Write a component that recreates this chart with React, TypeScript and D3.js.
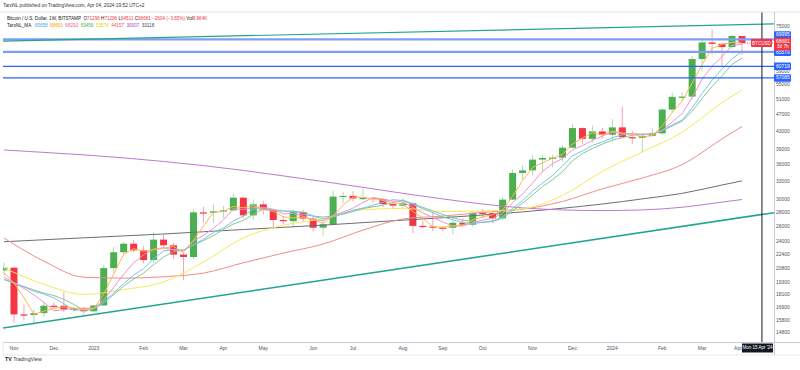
import React, { useRef, useEffect } from "react";
import * as d3 from "d3";

// weekly BTCUSD candles, Oct 31 2022 .. Apr 1 2024 (index = week)
const opens = [
  20627, 20915, 16334, 16284, 16444, 17106, 17100, 16780, 16840, 16610,
  17130, 20870, 22700, 23750, 22930, 21780, 24270, 23550, 22420, 22140,
  28030, 27990, 28190, 28330, 30300, 27590, 29250, 28450, 26920, 26750,
  28070, 27120, 25850, 26330, 30470, 30590, 30170, 30250, 30080, 29280,
  29050, 29400, 26100, 26010, 25860, 25840, 26530, 26260, 27980, 27930,
  27160, 29990, 34520, 35010, 37060, 37380, 37450, 39470, 43790, 41370,
  43010, 42280, 43950, 41730, 41580, 42030, 42580, 48300, 51660, 51730,
  63100, 68900, 68390, 67220, 71296,
];
const highs = [
  21479, 21055, 17197, 16770, 17424, 17420, 18380, 16960, 16970, 17190,
  21250, 23370, 23960, 24240, 23440, 25250, 25020, 23900, 22600, 28470,
  28870, 29200, 29000, 30970, 30490, 30030, 29800, 28500, 27500, 28450,
  28440, 27400, 26800, 31430, 31280, 31380, 31800, 30400, 30100, 29700,
  30200, 29480, 26820, 28140, 26050, 27480, 27150, 28000, 28580, 28100,
  30380, 35200, 35970, 37970, 37950, 38000, 40000, 44700, 44000, 44380,
  43800, 45900, 49050, 43200, 42250, 43880, 48600, 52800, 52980, 64000,
  70170, 73780, 68900, 71770, 71296,
];
const lows = [
  20046, 15632, 15815, 15480, 16124, 16880, 16540, 16560, 16330, 16530,
  17120, 20410, 22500, 22700, 21400, 21460, 23110, 21940, 19570, 21920,
  26600, 26500, 27200, 28170, 27130, 26940, 27700, 25810, 26330, 25900,
  26600, 25350, 24800, 26260, 29500, 29700, 29960, 29500, 28860, 28580,
  28730, 25150, 25770, 25390, 25370, 24900, 26000, 26000, 27200, 26530,
  26960, 29900, 33400, 34100, 34800, 35600, 36700, 39400, 40200, 40500,
  41400, 40750, 41500, 40300, 38500, 41800, 42250, 47600, 50550, 50900,
  59000, 64600, 60780, 66500, 64511,
];
const closes = [
  20915, 16334, 16284, 16444, 17106, 17100, 16780, 16840, 16610, 17130,
  20870, 22700, 23750, 22930, 21780, 24270, 23550, 22420, 22140, 28030,
  27990, 28190, 28330, 30300, 27590, 29250, 28450, 26920, 26750, 28070,
  27120, 25850, 26330, 30470, 30590, 30170, 30250, 30080, 29280, 29050,
  29400, 26100, 26010, 25860, 25840, 26530, 26260, 27980, 27930, 27160,
  29990, 34520, 35010, 37060, 37380, 37450, 39470, 43790, 41370, 43010,
  42280, 43950, 41730, 41580, 42030, 42580, 48300, 51660, 51730, 63100,
  68900, 68390, 67220, 71296, 68681,
];

// TaroNL_MA lines, one value per week
const maOrange = [
  20371, 19292, 17844, 16354, 16611, 16883, 16995, 16907, 16743, 16860,
  18203, 20233, 22440, 23127, 22820, 22993, 23200, 23413, 22703, 24197,
  26053, 28070, 28170, 28940, 28740, 29047, 28430, 28207, 27373, 27247,
  27313, 27013, 26433, 27550, 29130, 30410, 30337, 30167, 29870, 29470,
  29243, 28183, 27170, 25990, 25903, 26077, 26210, 26923, 27390, 27690,
  28360, 30557, 33173, 35530, 36483, 37297, 38100, 40237, 41543, 42723,
  42220, 43080, 42653, 42420, 41780, 42063, 44303, 47513, 50563, 55497,
  61243, 66797, 68170, 68969, 68663,
];
const maPink = [
  19920, 19303, 18746, 18121, 17417, 16654, 16743, 16854, 16887, 16892,
  17646, 18830, 20212, 21476, 22406, 23086, 23256, 22990, 22832, 24082,
  24826, 25754, 26936, 28568, 28480, 28732, 28784, 28502, 27792, 27888,
  27462, 26942, 26824, 27568, 28072, 28682, 29562, 30312, 30074, 29766,
  29612, 28782, 27968, 27284, 26642, 26068, 26100, 26494, 26908, 27172,
  27864, 29516, 30922, 32748, 34792, 36284, 37274, 39030, 39892, 41018,
  41984, 42880, 42468, 42510, 42314, 42374, 43244, 45230, 47260, 51474,
  56738, 60756, 63868, 67781, 68293,
];
const maBlue = [
  19673, 19321, 18889, 18463, 18183, 17830, 17280, 16698, 16738, 16859,
  17491, 18290, 19240, 20119, 20824, 21919, 22836, 23057, 22977, 23589,
  24311, 25227, 25807, 26771, 27510, 28526, 28586, 28433, 28227, 28190,
  27736, 27487, 27070, 27359, 27883, 28371, 28683, 29106, 29596, 29984,
  29831, 29190, 28596, 27969, 27363, 26970, 26571, 26369, 26630, 26794,
  27384, 28624, 29836, 31379, 32721, 34081, 35840, 37811, 38790, 39933,
  40679, 41617, 42229, 42530, 42279, 42451, 43207, 44547, 45659, 48711,
  52614, 56380, 59900, 63185, 65658,
];
const maGreen = [
  19642, 19256, 18941, 18583, 18294, 18048, 17699, 17225, 16687, 16787,
  17360, 18142, 18973, 19701, 20326, 21255, 22123, 22784, 22943, 23609,
  24139, 24796, 25615, 26369, 26874, 27728, 28516, 28378, 28223, 28208,
  28056, 27500, 27343, 27495, 27763, 28169, 28606, 28858, 29128, 29528,
  29911, 29365, 28793, 28254, 27703, 27259, 26881, 26748, 26564, 26696,
  27194, 28276, 29423, 30739, 32129, 33313, 34755, 36834, 38256, 39318,
  40226, 41088, 41631, 42148, 42468, 42316, 43183, 44264, 45445, 47839,
  51235, 54586, 57735, 61325, 63456,
];

// slow MA lines, read every 4 weeks
const longWeeks = [0, 4, 8, 12, 16, 20, 24, 28, 32, 36, 40, 44, 48, 52, 56, 60, 64, 68, 72, 74];
const maYellow = [20880, 19160, 18164, 18633, 19405, 21556, 24498, 26181, 27108, 28414, 28627, 28154, 28238, 28563, 30659, 34824, 38611, 42836, 50101, 53578];
const maRed = [24470, 21650, 19890, 19790, 19940, 20330, 21470, 22600, 23710, 25520, 27070, 27490, 28030, 28510, 29700, 31760, 33620, 36100, 41340, 44157];
const maPurple = [39000, 38500, 38000, 37400, 36700, 35900, 35000, 34000, 33000, 32000, 31000, 30100, 29300, 28700, 28400, 28300, 28400, 28800, 29600, 30007];
const maGray = [24000, 24250, 24500, 24750, 25000, 25300, 25600, 25900, 26200, 26550, 26900, 27250, 27650, 28100, 28650, 29300, 30100, 31000, 32400, 33118];

const levelPrices = [69995, 65570, 60719, 57085];
const priceTicks = [14800, 15800, 16900, 18100, 19300, 20800, 22400, 24000, 26000, 28000, 30000, 33000, 36000, 39000, 43000, 47000, 51000, 55000, 59000, 75000];
const timeTickWeeks = [1, 5, 9, 14, 18, 22, 26, 31, 35, 40, 44, 48, 53, 57, 61, 66, 70, 74];
const timeTickLabels = ["Nov", "Dec", "2023", "Feb", "Mar", "Apr", "May", "Jun", "Jul", "Aug", "Sep", "Oct", "Nov", "Dec", "2024", "Feb", "Mar", "Apr"];
// trendlines: [week, price]
const supportLine: [number, number][] = [[0, 15210], [77, 27940]];
const upperLine: [number, number][] = [[0, 69400], [77, 75950]];
const crosshairWeek = 76;

const maLegend = [
  { value: "65658", color: "#42a5f5" },
  { value: "68663", color: "#ff9800" },
  { value: "68293", color: "#f06292" },
  { value: "63456", color: "#4caf50" },
  { value: "53578", color: "#e6d200" },
  { value: "44157", color: "#ef5350" },
  { value: "30007", color: "#ab47bc" },
  { value: "33118", color: "#434651" },
];

const W = 800;
const H = 370;
const UP = "#4caf50";
const DOWN = "#f23645";

const App: React.FC = () => {
  const svgRef = useRef<SVGSVGElement | null>(null);

  useEffect(() => {
    const svg = d3.select(svgRef.current);
    svg.selectAll("*").remove();

    const left = 3;
    const right = 774;
    const top = 12;
    const bottom = 342;
    const font = "'Liberation Sans', Arial, sans-serif";

    const x = d3.scaleLinear().domain([0, 74]).range([4, 742]);
    const y = d3.scaleLog().domain([14118, 80930]).range([bottom, top]);

    svg.append("rect").attr("width", W).attr("height", H).attr("fill", "#fff");

    svg
      .append("defs")
      .append("clipPath")
      .attr("id", "plot")
      .append("rect")
      .attr("x", left)
      .attr("y", top)
      .attr("width", right - left)
      .attr("height", bottom - top);

    const plot = svg.append("g").attr("clip-path", "url(#plot)");

    // candles
    const idx = d3.range(closes.length);
    const bw = 7;
    plot
      .selectAll(".wick")
      .data(idx)
      .enter()
      .append("line")
      .attr("x1", (i) => x(i))
      .attr("x2", (i) => x(i))
      .attr("y1", (i) => y(highs[i]))
      .attr("y2", (i) => y(lows[i]))
      .attr("stroke", (i) => (closes[i] >= opens[i] ? UP : DOWN))
      .attr("stroke-opacity", 0.45)
      .attr("stroke-width", 1);

    plot
      .selectAll(".body")
      .data(idx)
      .enter()
      .append("rect")
      .attr("x", (i) => x(i) - bw / 2)
      .attr("y", (i) => y(Math.max(opens[i], closes[i])))
      .attr("width", bw)
      .attr("height", (i) => Math.max(1.2, y(Math.min(opens[i], closes[i])) - y(Math.max(opens[i], closes[i]))))
      .attr("fill", (i) => (closes[i] >= opens[i] ? UP : DOWN));

    // moving averages
    const weekLine = d3
      .line<number>()
      .x((_, i) => x(i))
      .y((d) => y(d));
    const slowLine = d3
      .line<number>()
      .x((_, i) => x(longWeeks[i]))
      .y((d) => y(d))
      .curve(d3.curveMonotoneX);

    const slow = [
      { data: maGray, color: "#6b6e76" },
      { data: maPurple, color: "#c077d0" },
      { data: maRed, color: "#f28b8b" },
      { data: maYellow, color: "#f6e85a" },
    ];
    slow.forEach((s) => {
      plot
        .append("path")
        .attr("d", slowLine(s.data))
        .attr("fill", "none")
        .attr("stroke", s.color)
        .attr("stroke-width", 1);
    });

    const fast = [
      { data: maGreen, color: "#86c98a" },
      { data: maBlue, color: "#7cc0f5" },
      { data: maPink, color: "#f294c8" },
      { data: maOrange, color: "#ffb74d" },
    ];
    fast.forEach((s) => {
      plot
        .append("path")
        .attr("d", weekLine(s.data))
        .attr("fill", "none")
        .attr("stroke", s.color)
        .attr("stroke-width", 1);
    });

    // horizontal levels
    levelPrices.forEach((p, i) => {
      plot
        .append("line")
        .attr("x1", left)
        .attr("x2", right)
        .attr("y1", y(p))
        .attr("y2", y(p))
        .attr("stroke", i < 2 ? "#7f9ef3" : "#2962ff")
        .attr("stroke-width", i < 2 ? 2.2 : 1.3);
    });

    // trendlines, extended across the plot
    const trend = (pts: [number, number][], width: number) => {
      const [a, b] = pts;
      const xa = x(a[0]);
      const ya = y(a[1]);
      const xb = x(b[0]);
      const yb = y(b[1]);
      const k = (yb - ya) / (xb - xa);
      plot
        .append("line")
        .attr("x1", left)
        .attr("y1", ya + k * (left - xa))
        .attr("x2", right)
        .attr("y2", ya + k * (right - xa))
        .attr("stroke", "#22a58f")
        .attr("stroke-width", width);
    };
    trend(supportLine, 1.6);
    trend(upperLine, 1.2);

    // last price dotted line
    plot
      .append("line")
      .attr("x1", x(74))
      .attr("x2", right)
      .attr("y1", y(closes[74]))
      .attr("y2", y(closes[74]))
      .attr("stroke", DOWN)
      .attr("stroke-width", 0.8)
      .attr("stroke-dasharray", "1,1.5");

    // crosshair
    const cx = x(crosshairWeek);
    svg
      .append("line")
      .attr("x1", cx)
      .attr("x2", cx)
      .attr("y1", top)
      .attr("y2", bottom)
      .attr("stroke", "#131722")
      .attr("stroke-width", 1);

    // BTCUSD label
    svg
      .append("rect")
      .attr("x", 751)
      .attr("y", y(closes[74]) - 4)
      .attr("width", 21)
      .attr("height", 8)
      .attr("rx", 1)
      .attr("fill", DOWN);
    svg
      .append("text")
      .attr("x", 761.5)
      .attr("y", y(closes[74]) + 0.3)
      .attr("text-anchor", "middle")
      .attr("dominant-baseline", "middle")
      .attr("font-family", font)
      .attr("font-size", 4.6)
      .attr("fill", "#fff")
      .text("BTCUSD");

    // frame lines
    svg.append("line").attr("x1", 0).attr("x2", W).attr("y1", top).attr("y2", top).attr("stroke", "#e0e3eb").attr("stroke-width", 1);
    svg.append("line").attr("x1", left).attr("x2", W).attr("y1", bottom + 0.5).attr("y2", bottom + 0.5).attr("stroke", "#c9ccd4").attr("stroke-width", 1);
    svg.append("line").attr("x1", left).attr("x2", W).attr("y1", 355).attr("y2", 355).attr("stroke", "#e6e8ee").attr("stroke-width", 1);
    svg.append("line").attr("x1", right + 0.5).attr("x2", right + 0.5).attr("y1", top).attr("y2", 355).attr("stroke", "#c9ccd4").attr("stroke-width", 1);
    svg.append("line").attr("x1", left).attr("x2", left).attr("y1", bottom).attr("y2", 355).attr("stroke", "#e6e8ee").attr("stroke-width", 1);

    // price axis
    const axisG = svg.append("g");
    priceTicks.forEach((p) => {
      axisG
        .append("text")
        .attr("x", 776)
        .attr("y", y(p))
        .attr("dominant-baseline", "middle")
        .attr("font-family", font)
        .attr("font-size", 5)
        .attr("fill", "#50535e")
        .text(d3.format("d")(p));
    });

    const levelLabelY = [y(levelPrices[0]) - 4.5, y(levelPrices[1]) + 0.5, y(levelPrices[2]), y(levelPrices[3])];
    levelPrices.forEach((p, i) => {
      axisG
        .append("rect")
        .attr("x", 774)
        .attr("y", levelLabelY[i] - 3.8)
        .attr("width", 17)
        .attr("height", 7.6)
        .attr("rx", 1)
        .attr("fill", "#2962ff");
      axisG
        .append("text")
        .attr("x", 776)
        .attr("y", levelLabelY[i] + 0.2)
        .attr("dominant-baseline", "middle")
        .attr("font-family", font)
        .attr("font-size", 5)
        .attr("fill", "#fff")
        .text(d3.format("d")(p));
    });

    const lastY = y(closes[74]);
    axisG.append("rect").attr("x", 774).attr("y", lastY - 5.5).attr("width", 17).attr("height", 13).attr("rx", 1).attr("fill", DOWN);
    axisG
      .append("text")
      .attr("x", 776)
      .attr("y", lastY - 1.8)
      .attr("dominant-baseline", "middle")
      .attr("font-family", font)
      .attr("font-size", 5)
      .attr("fill", "#fff")
      .text(d3.format("d")(closes[74]));
    axisG
      .append("text")
      .attr("x", 777)
      .attr("y", lastY + 4)
      .attr("dominant-baseline", "middle")
      .attr("font-family", font)
      .attr("font-size", 4.6)
      .attr("fill", "#fff")
      .text("3d 7h");

    // time axis (last label sits partly under the crosshair box, as in the source)
    timeTickWeeks.forEach((w, i) => {
      const last = i === timeTickWeeks.length - 1;
      svg
        .append("text")
        .attr("x", last ? x(w) - 4 : x(w))
        .attr("y", 348.5)
        .attr("text-anchor", "middle")
        .attr("dominant-baseline", "middle")
        .attr("font-family", font)
        .attr("font-size", 5)
        .attr("fill", "#50535e")
        .text(timeTickLabels[i]);
    });

    svg.append("rect").attr("x", 742).attr("y", 343.5).attr("width", 31).attr("height", 9).attr("fill", "#131722");
    svg
      .append("text")
      .attr("x", 757.5)
      .attr("y", 348.3)
      .attr("text-anchor", "middle")
      .attr("dominant-baseline", "middle")
      .attr("font-family", font)
      .attr("font-size", 4.5)
      .attr("fill", "#fff")
      .text("Mon 15 Apr '24");

    // header and legend
    svg
      .append("text")
      .attr("x", 3)
      .attr("y", 6)
      .attr("dominant-baseline", "middle")
      .attr("font-family", font)
      .attr("font-size", 4.8)
      .attr("fill", "#333")
      .text("TaroNL published on TradingView.com, Apr 04, 2024 19:52 UTC+2");

    const l1 = svg
      .append("text")
      .attr("x", 7)
      .attr("y", 19)
      .attr("dominant-baseline", "middle")
      .attr("font-family", font)
      .attr("font-size", 4.6)
      .attr("fill", "#131722");
    const parts: [string, string][] = [
      ["Bitcoin / U.S. Dollar, 1W, BITSTAMP  ", "#131722"],
      ["O", "#131722"],
      ["71296", DOWN],
      [" H", "#131722"],
      ["71296", DOWN],
      [" L", "#131722"],
      ["64511", DOWN],
      [" C", "#131722"],
      ["68681", DOWN],
      [" \u22122604 (\u22123.65%)", DOWN],
      [" Vol", "#131722"],
      ["8.964K", DOWN],
    ];
    parts.forEach(([t, c]) => l1.append("tspan").attr("fill", c).attr("xml:space", "preserve").text(t));

    const l2 = svg
      .append("text")
      .attr("x", 7)
      .attr("y", 25.5)
      .attr("dominant-baseline", "middle")
      .attr("font-family", font)
      .attr("font-size", 4.6)
      .attr("fill", "#131722");
    l2.append("tspan").text("TaroNL_MA ");
    maLegend.forEach((m) => l2.append("tspan").attr("fill", m.color).attr("dx", 2.5).text(m.value));

    // logo
    const logo = svg
      .append("text")
      .attr("x", 5)
      .attr("y", 359.5)
      .attr("dominant-baseline", "middle")
      .attr("font-family", font)
      .attr("font-size", 5.2);
    logo.append("tspan").attr("font-weight", "bold").attr("fill", "#131722").text("TV");
    logo.append("tspan").attr("dx", 1.5).attr("fill", "#333").text("TradingView");
  }, []);

  return (
    <div style={{ position: "absolute", left: 0, top: 0, width: W, height: H, background: "#fff" }}>
      <svg ref={svgRef} width={W} height={H} style={{ display: "block" }}></svg>
    </div>
  );
};

export default App;
